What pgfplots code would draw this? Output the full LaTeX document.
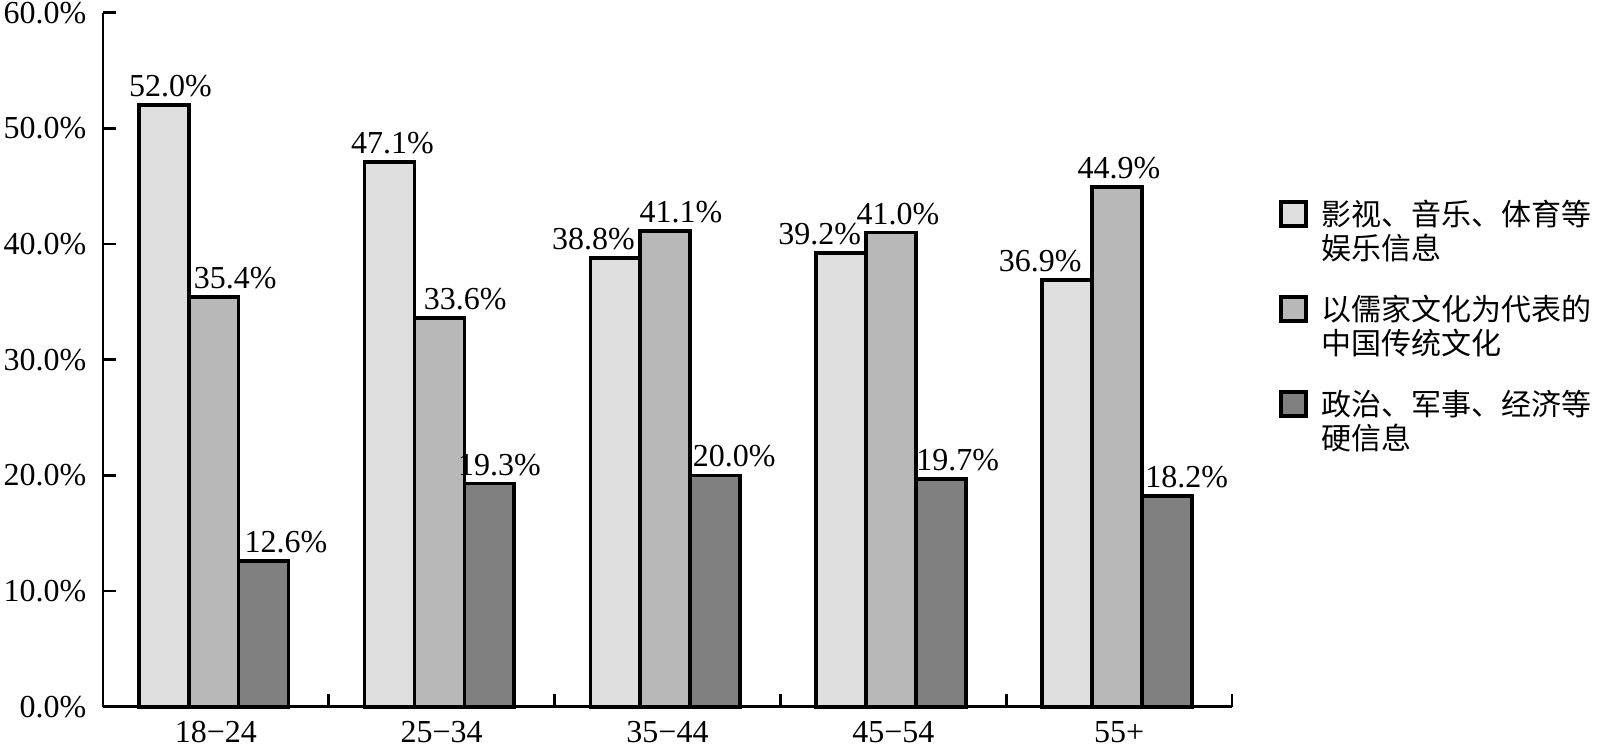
\documentclass[border=0pt]{standalone}
\usepackage{pgfplots}
\pgfplotsset{compat=1.18}
\usepackage{pgfplotstable}
\usepackage{fontspec}
\setmainfont{Liberation Serif}
\newfontfamily\cjk{Noto Sans CJK SC}
\definecolor{cA}{HTML}{DFDFDF}
\definecolor{cB}{HTML}{B8B8B8}
\definecolor{cC}{HTML}{808080}

\pgfplotstableread{
x v dx
0 52.0 2.0
1 47.1 0.9
2 38.8 -6.6
3 39.2 -6.4
4 36.9 -8.0
}\tA
\pgfplotstableread{
x v dx
0 35.4 6.5
1 33.6 7.7
2 41.1 4.7
3 41.0 2.1
4 44.9 0.6
}\tB
\pgfplotstableread{
x v dx
0 12.6 6.7
1 19.3 3.0
2 20.0 5.7
3 19.7 5.0
4 18.2 6.0
}\tC

\begin{document}
\begin{tikzpicture}
\path[use as bounding box] (-30.9pt,-11.5pt) rectangle (449.1pt,212pt);
\begin{axis}[
  scale only axis, width=338.7pt, height=208.2pt,
  xmin=-0.5, xmax=4.5, ymin=0, ymax=60,
  axis x line*=bottom, axis y line*=left,
  axis line style={line width=0.8pt, black},
  every tick/.style={black, line width=0.8pt},
  tick align=inside,
  major tick length=3.8pt,
  xtick style={yshift=3.8pt},
  xtick={0.5,1.5,2.5,3.5,4.5}, xticklabels={,,,,},
  extra x ticks={0,1,2,3,4},
  extra x tick labels={18−24,25−34,35−44,45−54,55+},
  extra x tick style={major tick length=0pt, grid=none, tick label style={yshift=-0.8pt}},
  ytick={0,10,...,60},
  yticklabel={\pgfmathprintnumber[fixed,fixed zerofill,precision=1]{\tick}\%},
  yticklabel style={xshift=-1.5pt},
  /pgf/number format/assume math mode=true,
  tick label style={font=\fontsize{9.6}{11}\selectfont},
  ybar, bar width=0.221,
  point meta=explicit,
  visualization depends on={\thisrow{dx} \as \dx},
  nodes near coords={\pgfmathprintnumber[fixed,fixed zerofill,precision=1]{\pgfplotspointmeta}\%},
  nodes near coords style={font=\fontsize{9.6}{11}\selectfont, xshift=\dx pt, yshift=-1.5pt, black},
  clip=false,
  legend image code/.code={\draw[#1, line width=1.2pt, draw=black] (-0.6pt,1.8pt) rectangle (6.8pt,9.2pt);},
  legend style={at={(1.042,0.74)}, anchor=north west, draw=none, fill=none,
    inner sep=0pt, outer sep=0pt, row sep=5pt, column sep=2pt,
    cells={anchor=west, align=left, inner sep=0pt, font=\cjk\fontsize{9}{10.4}\selectfont}},
]
\addplot[fill=cA, draw=black, line width=1.1pt, bar shift=-0.231] table[x=x,y=v,meta=v]{\tA};
\addlegendentry{影视、音乐、体育等\\娱乐信息}
\addplot[fill=cB, draw=black, line width=1.1pt, bar shift=-0.01] table[x=x,y=v,meta=v]{\tB};
\addlegendentry{以儒家文化为代表的\\中国传统文化}
\addplot[fill=cC, draw=black, line width=1.1pt, bar shift=0.211] table[x=x,y=v,meta=v]{\tC};
\addlegendentry{政治、军事、经济等\\硬信息}
\end{axis}
\end{tikzpicture}
\end{document}
